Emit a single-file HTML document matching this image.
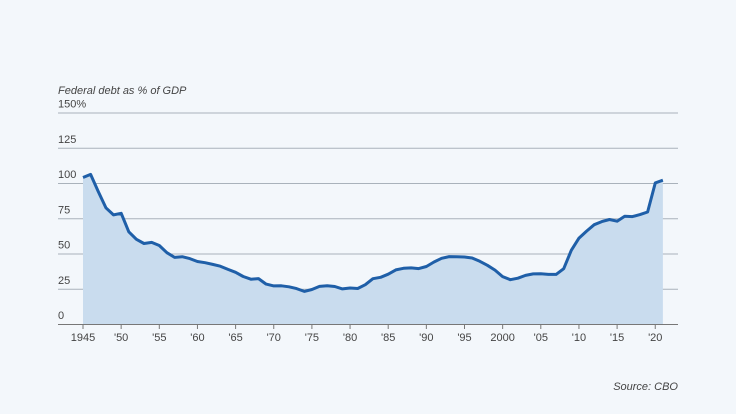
<!DOCTYPE html>
<html><head><meta charset="utf-8"><style>
html,body{margin:0;padding:0;background:#f3f7fb;}
svg{display:block;font-family:"Liberation Sans",sans-serif;}
</style></head><body>
<svg id="c" width="736" height="414" viewBox="0 0 736 414">
<rect width="736" height="414" fill="#f3f7fb"/>
<text x="58" y="94" font-size="11" font-style="italic" fill="#444">Federal debt as % of GDP</text>
<g id="grid"></g>
<path id="area" fill="#c9dcee"/>
<path id="line" fill="none" stroke="#1f5fa8" stroke-width="3" stroke-linejoin="round"/>
<line x1="58" y1="324.5" x2="678" y2="324.5" stroke="#777" stroke-width="1"/>
<g id="xt"></g>
<text x="678" y="390" font-size="11" font-style="italic" fill="#444" text-anchor="end">Source: CBO</text>
</svg>
<script>
var d=[103.9,106.1,93.9,82.4,77.4,78.5,65.4,60.1,57.1,57.9,55.7,50.6,47.2,47.7,46.4,44.3,43.5,42.3,41.0,38.7,36.7,33.7,31.8,32.2,28.3,27.0,27.1,26.4,25.1,23.1,24.5,26.7,27.1,26.6,24.9,25.5,25.2,27.9,32.1,33.1,35.3,38.4,39.5,39.8,39.3,40.8,44.0,46.6,47.8,47.7,47.5,46.8,44.5,41.6,38.2,33.6,31.4,32.5,34.5,35.5,35.6,35.2,35.2,39.2,52.3,60.9,65.9,70.4,72.6,74.1,72.9,76.4,76.2,77.6,79.4,100.1,102.0];
function X(y){return 83+(y-1945)*7.63;}
function Y(v){return 324-v*1.41;}
var ns="http://www.w3.org/2000/svg",g=document.getElementById('grid'),h='';
[150,125,100,75,50,25,0].forEach(function(v){
 var y=Y(v);
 if(v>0)h+='<line x1="58" x2="678" y1="'+(y+0.5)+'" y2="'+(y+0.5)+'" stroke="#a9b2bb" stroke-width="1"/>';
 h+='<text x="58" y="'+(y-5)+'" font-size="11" fill="#444">'+v+(v==150?'%':'')+'</text>';
});
g.innerHTML=h;
var p='';d.forEach(function(v,i){p+=(i?'L':'M')+X(1945+i).toFixed(1)+','+Y(v).toFixed(1);});
document.getElementById('line').setAttribute('d',p);
document.getElementById('area').setAttribute('d',p+'L'+X(2021)+',324L'+X(1945)+',324Z');
var t='';
for(var y=1945;y<=2020;y+=5){var x=X(y);var l=y==1945?'1945':(y==2000?'2000':"'"+String(y).slice(2));
 t+='<line x1="'+x+'" x2="'+x+'" y1="324" y2="329" stroke="#777"/>';
 t+='<text x="'+x+'" y="341" font-size="11" fill="#444" text-anchor="middle">'+l+'</text>';}
document.getElementById('xt').innerHTML=t;
</script>
</body></html>
